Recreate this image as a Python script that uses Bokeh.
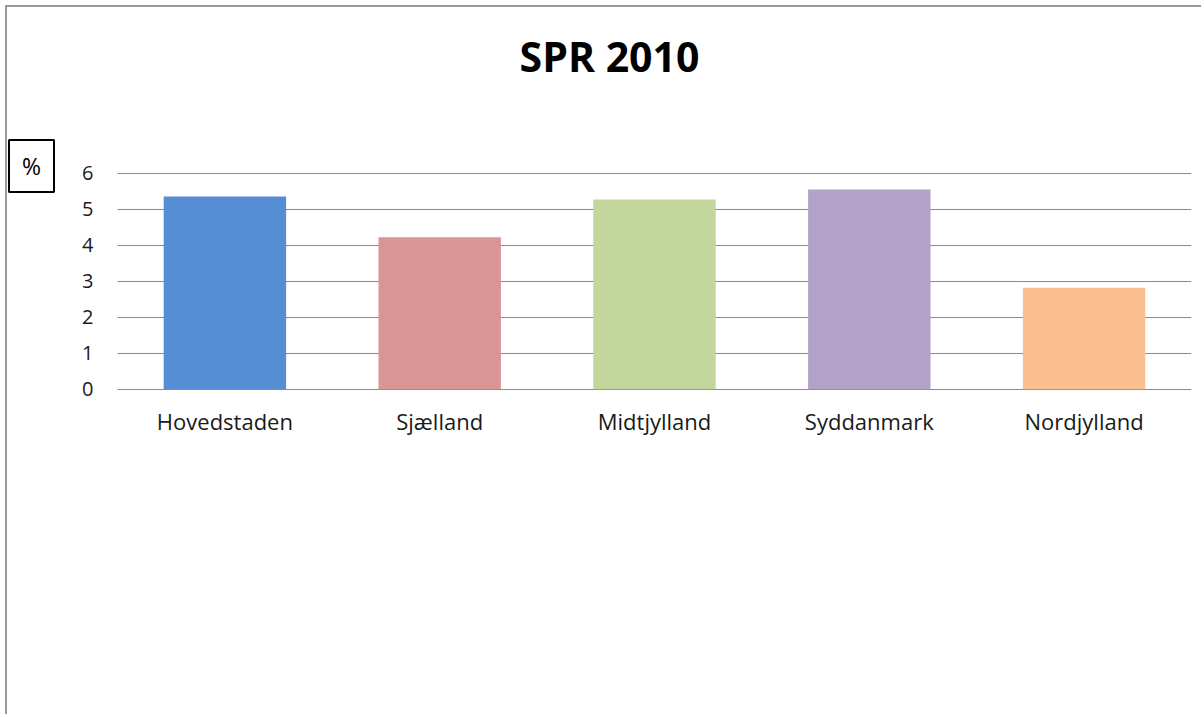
from bokeh.plotting import figure
from bokeh.models import Range1d, FixedTicker, Label, ColumnDataSource, Grid
from bokeh.embed import file_html
from bokeh.resources import INLINE

categories = ["Hovedstaden", "Sjælland", "Midtjylland", "Syddanmark", "Nordjylland"]
values = [5.35, 4.22, 5.27, 5.55, 2.82]
colors = ["#558ED5", "#D99694", "#C3D69B", "#B3A2C7", "#FAC090"]
y_ticks = [0, 1, 2, 3, 4, 5, 6]

positions = list(range(len(categories)))
src = ColumnDataSource(dict(x=positions, val=values, col=colors))

FB = 450  # frame bottom in canvas pixels
p = figure(width=1196, height=709, output_backend="svg", toolbar_location=None,
           title=None,
           x_range=Range1d(-0.5 - 110 / 214.8, len(categories) - 0.5),
           y_range=Range1d(-(FB - 381.7) / 36, 6 + 165.7 / 36),
           min_border_left=0, min_border_right=12, min_border_top=0,
           min_border_bottom=709 - FB)
p.styles = {"border-left": "2px solid #9a9a9a", "border-top": "2px solid #9a9a9a",
            "margin-left": "5px", "margin-top": "5px"}

p.vbar(x="x", top="val", width=0.57, fill_color="col", line_color=None, source=src)

p.outline_line_color = None
p.xgrid.grid_line_color = None
p.ygrid.grid_line_color = "#8a8a8a"
p.ygrid.grid_line_width = 1
p.ygrid.ticker = FixedTicker(ticks=y_ticks)
if "cross_bounds" in Grid.properties():
    p.ygrid.cross_bounds = (-0.5, len(categories) - 0.5)

p.yaxis.ticker = FixedTicker(ticks=y_ticks)
p.yaxis.fixed_location = -0.5
p.xaxis.ticker = FixedTicker(ticks=positions)
p.xaxis.fixed_location = 0
p.xaxis.major_label_overrides = {i: c for i, c in zip(positions, categories)}
for ax in (p.xaxis[0], p.yaxis[0]):
    ax.axis_line_color = None
    ax.major_tick_line_color = None
    ax.minor_tick_line_color = None
    ax.major_tick_out = 0
    ax.major_tick_in = 0
    ax.major_label_text_font = "Open Sans"
    ax.major_label_text_color = "#1a1a1a"
p.yaxis.major_label_text_font_size = "20px"
p.yaxis.major_label_standoff = 24
p.xaxis.major_label_text_font_size = "22px"
p.xaxis.major_label_standoff = 17

title = Label(x=602, y=FB - 48, x_units="screen", y_units="screen", text="SPR 2010",
              text_align="center", text_baseline="alphabetic",
              text_font="Open Sans", text_font_size="41px", text_font_style="bold",
              text_color="#000000")
p.add_layout(title)

pct = Label(x=24, y=FB - 158.5, x_units="screen", y_units="screen", text="%",
            text_align="center", text_baseline="middle",
            text_font="Open Sans", text_font_size="23px", text_color="#000000",
            border_line_color="black", border_line_width=2,
            background_fill_color="white", padding=(13, 10))
p.add_layout(pct)

open("out.html", "w").write(file_html(p, INLINE))
